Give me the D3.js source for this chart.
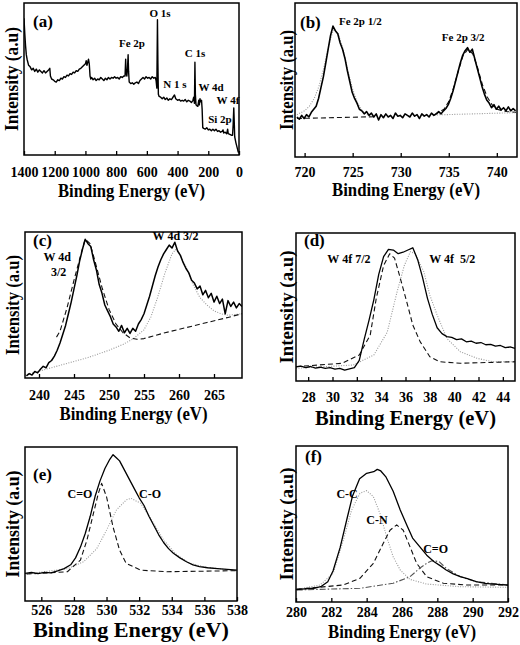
<!DOCTYPE html>
<html><head><meta charset="utf-8">
<script src="https://cdn.jsdelivr.net/npm/d3@7"></script>
<style>body{margin:0;background:#fff}svg{display:block}</style>
</head><body>
<script>
// ---------- DATA (binding energy eV, intensity a.u. 0-100) ----------
const aTicks = [1400,1200,1000,800,600,400,200,0];
const aSurvey = [[1400,90],[1395,80],[1390,72],[1385,66],[1380,63],[1375,61],[1370,59],[1360,58],[1350,56],[1340,57],[1330,55],[1320,56.5],[1310,54.5],[1300,56],[1290,55],[1280,54],[1270,55.5],[1260,54],[1250,55],[1240,56],[1232,57],[1228,52],[1220,50],[1210,49.5],[1200,48.5],[1190,48],[1180,49.5],[1170,49],[1160,50.5],[1150,50],[1140,51.5],[1130,51],[1120,52.5],[1110,52],[1100,53.5],[1090,53],[1080,54.5],[1070,54],[1060,55.5],[1050,55],[1040,56.5],[1030,57],[1020,58],[1010,59],[1000,60],[995,62],[990,59],[985,61],[980,63],[975,60],[970,52],[965,50],[960,51],[950,49.5],[940,50.5],[930,49],[920,50],[910,49.5],[900,51],[890,50],[880,49],[870,50.5],[860,49.5],[850,51],[840,50],[830,51],[820,50.5],[810,51.5],[800,50.5],[790,51],[780,50],[770,51.5],[760,51],[750,52],[742,52],[738,63],[735,54],[730,52],[726,57],[722,66],[719,55],[715,48],[705,47],[695,47.5],[685,46.5],[675,47.5],[665,48],[655,47],[645,49],[635,50],[625,51],[615,50],[605,51.5],[595,50.5],[585,51],[575,50],[565,51.5],[555,50.5],[545,51],[540,49],[535,44],[531,89],[528,60],[525,40],[520,38.5],[510,38],[500,37],[490,38],[480,36.5],[470,37.5],[460,36],[450,37],[440,36.5],[430,38],[420,39.5],[412,37],[400,36],[390,36.5],[380,35.5],[370,36],[360,35.5],[350,36.5],[340,35],[330,36],[320,35.5],[310,34.5],[300,36],[295,38],[290,34],[287,61],[284,40],[280,33],[275,32.5],[268,32],[262,36],[258,33],[254,37],[250,35],[244,36],[240,30],[236,18],[230,17.5],[220,17],[210,18],[200,16.5],[190,17],[180,16],[170,17],[160,16],[150,17],[140,15.5],[130,16],[120,15],[110,15.5],[104,16.5],[100,14.5],[90,15],[80,14],[74,17],[70,14],[60,13.5],[50,13],[42,13],[38,20],[34,31],[31,22],[28,12],[20,8],[10,4],[5,2],[2,1.5]];
const aNotes = [["Fe 2p",697,73.7],["O 1s",514,93.4],["C 1s",286,67],["N 1 s",417,46.7],["W 4d",182,44.6],["W 4f",72,35.8],["Si 2p",124,23.7]];

const bTicks = [720,725,730,735,740];
const bData = [[719.2,26],[719.45,24.5],[719.7,27],[719.95,25],[720.2,27.5],[720.45,26],[720.7,29],[720.95,31],[721.2,33],[721.45,38],[721.7,45],[721.95,52],[722.2,61],[722.45,70],[722.7,79],[722.95,85],[723.2,82],[723.45,80],[723.7,74],[723.95,70],[724.2,64],[724.45,56],[724.7,49],[724.95,42],[725.2,38],[725.45,35],[725.7,31],[725.95,30],[726.2,28],[726.45,29.5],[726.7,27],[726.95,28.5],[727.2,26],[727.45,28],[727.7,24],[727.95,27.5],[728.2,25.5],[728.45,28],[728.7,26],[728.95,27],[729.2,25],[729.45,28.5],[729.7,26.5],[729.95,27],[730.2,25.5],[730.45,28],[730.7,27],[730.95,26],[731.2,28.5],[731.45,26.5],[731.7,27.5],[731.95,25],[732.2,28],[732.45,26.5],[732.7,27.5],[732.95,26],[733.2,28.5],[733.45,27],[733.7,28],[733.95,29.5],[734.2,28],[734.45,30],[734.7,31.5],[734.95,34],[735.2,38],[735.45,43],[735.7,49],[735.95,55],[736.2,61],[736.45,66],[736.7,69],[736.95,71],[737.2,68],[737.45,70],[737.7,64],[737.95,58],[738.2,52],[738.45,46],[738.7,41],[738.95,37],[739.2,35],[739.45,32],[739.7,34],[739.95,31],[740.2,33],[740.45,30.5],[740.7,32],[740.95,30],[741.2,32.5],[741.45,30],[741.7,31.5],[741.95,30]];
const bFitPeak1 = [[719.2,27.5],[720,30],[720.5,33],[721,38],[721.5,46],[722,58],[722.5,72],[723,83],[723.5,80],[724,70],[724.5,56],[725,44],[725.5,35],[726,30],[726.5,27.5],[727,26.5]];
const bBaseLeft = [[719.2,25],[727.5,26.2]];
const bBaseRight = [[733.5,27.3],[742,28.8]];
const bFitPeak2 = [[733.5,27.5],[734.5,31],[735,36],[735.5,45],[736,56],[736.5,66],[737,70],[737.5,67],[738,58],[738.5,47],[739,39],[739.5,34],[740,31],[741,29.5],[742,29]];
const bNotes = [["Fe 2p 1/2",725.8,87.9],["Fe 2p 3/2",736.5,77.9]];

const cTicks = [240,245,250,255,260,265];
const cData = [[238.2,1.5],[238.6,3],[239,2],[239.4,4.5],[239.8,3.5],[240.2,6],[240.6,8],[241,7],[241.4,10.5],[241.8,12],[242.2,15],[242.6,19],[243,24],[243.4,30],[243.8,36],[244.2,44],[244.6,52],[245,61],[245.4,70],[245.8,80],[246.2,88],[246.6,95],[247,92],[247.4,90],[247.8,81],[248.2,74],[248.6,64],[249,58],[249.4,50],[249.8,46],[250.2,42],[250.6,37],[251,35],[251.4,32],[251.8,36],[252.2,31],[252.6,34],[253,30.5],[253.4,34],[253.8,32],[254.2,37],[254.6,40],[255,44],[255.4,50],[255.8,56],[256.2,63],[256.6,70],[257,76],[257.4,81],[257.8,85],[258.2,88],[258.6,91],[259,89],[259.4,93],[259.8,87],[260.2,84],[260.6,79],[261,75],[261.4,72],[261.8,67],[262.2,65],[262.6,61],[263,63],[263.4,57],[263.8,60],[264.2,55],[264.6,58],[265,52],[265.4,56],[265.8,51],[266.2,54],[266.6,44],[267,53],[267.4,49],[267.8,52],[268.2,48],[268.6,51],[269,49]];
const cFitPeak1 = [[242.5,28],[243,32],[244,48],[245,67],[246,85],[246.6,95],[247.3,92],[248,80],[249,62],[250,47],[251,37],[252,31],[253,27.5],[254,26.5],[255,27],[258,31],[261,34.5],[264,38],[267,41.5],[269,44]];
const cFitPeak2 = [[238,2],[241,6],[244,10],[247,14],[250,19],[252,23],[253.5,27],[255,33],[256,42],[257,56],[258,72],[259,85],[259.5,88],[260,86],[261,76],[262,64],[263,55],[264,50],[265,46],[266,44],[267,43],[268,43.5],[269,44]];
const cNotes = [["W 4d",242.6,82.9],["3/2",242.8,72.6],["W 4d 3/2",259.5,97.5]];

const dTicks = [28,30,32,34,36,38,40,42,44];
const dData = [[27,9.5],[27.4,10],[27.8,9],[28.2,9.8],[28.6,8.7],[29,9.3],[29.4,8.5],[29.8,9],[30.2,8],[30.6,8.6],[31,7.3],[31.4,8.2],[31.8,9],[32.2,14],[32.6,28],[33,41],[33.4,55],[33.8,72],[34.2,84],[34.6,89],[35,88.5],[35.4,86],[35.8,87],[36.2,88.5],[36.6,90],[37,82],[37.4,70],[37.8,56],[38.2,45],[38.6,36],[39,32],[39.4,30],[39.8,29.5],[40.2,28],[40.6,28.5],[41,26.5],[41.4,27],[41.8,25.5],[42.2,26],[42.6,24.5],[43,24.8],[43.4,23.5],[43.8,24],[44.2,22.5],[44.6,23],[45,22]];
const dFit72 = [[27,9.7],[30.8,12],[32.2,17.6],[33.1,31],[33.6,56],[34.2,78],[34.7,86],[35.1,83],[35.5,71.6],[36.1,53.6],[36.6,37.8],[37.2,26.6],[38,16.4],[38.8,13],[40.5,12],[45,13]];
const dFit52 = [[27,8.6],[31.7,10.8],[33.4,17.6],[34.5,33],[35.3,60],[35.9,78],[36.4,87.4],[36.8,86],[37.5,74],[38,58],[38.6,44.6],[39.4,28.8],[40.5,19.8],[41.9,15.3],[43.2,13],[45,13]];
const dNotes = [["W 4f 7/2",31.35,82.9],["W 4f  5/2",39.84,82.9]];

const eTicks = [526,528,530,532,534,536,538];
const eData = [[525,18],[525.4,18.5],[525.8,17.8],[526.2,18.6],[526.6,18.2],[527,19.5],[527.4,21],[527.8,23.5],[528.1,28],[528.4,35],[528.7,44],[529,55],[529.3,68],[529.6,78],[529.9,86],[530.2,92],[530.4,95],[530.6,93],[530.8,91],[531.1,85],[531.4,79],[531.7,73],[532,67],[532.3,62],[532.6,55],[532.9,49],[533.2,43],[533.5,38],[533.8,34],[534.1,31],[534.5,28],[534.9,25.5],[535.3,23.5],[535.7,22.3],[536.2,21.6],[536.8,21],[537.4,20.5],[538,20]];
const eFitCdO = [[525.1,17.5],[527.6,19],[528.4,26.6],[528.8,39.6],[529.2,57],[529.5,70],[529.7,76.4],[530,67.7],[530.4,48],[530.8,33],[531.2,24.5],[532.1,20],[533.7,19],[538,19.7]];
const eFitCO = [[525.1,17.5],[527.6,21],[528.6,25.5],[529.4,34],[530,46],[530.6,59],[531.2,65.6],[531.5,66.7],[532.1,63.4],[532.7,53.7],[533.5,39.6],[534.3,30],[535.1,24.5],[536.1,21.9],[538,19.7]];
const eNotes = [["C=O",528.37,69.7],["C-O",532.67,69.7]];

const fTicks = [280,282,284,286,288,290,292];
const fData = [[280,8],[280.5,8.4],[281,8.8],[281.4,9.8],[281.8,13],[282.1,20],[282.5,35],[282.9,54],[283.2,68],[283.6,79],[284,82.5],[284.4,83.5],[284.6,85],[284.8,84],[285.1,80],[285.5,71],[285.9,59],[286.3,48.5],[286.6,41],[287,35.5],[287.4,30],[287.8,26],[288.2,23],[288.5,20.5],[288.9,18],[289.3,16.2],[289.7,15],[290.2,13],[290.7,12],[291.2,11.5],[291.6,11.2],[292,10.8]];
const fFitCC = [[280.04,8.1],[281.36,10.9],[282.11,18.4],[282.68,39.7],[283.15,59],[283.62,69.7],[284,71.4],[284.38,67.5],[284.75,56.8],[285.13,41.9],[285.5,29],[285.9,20.5],[286.45,14.5],[287.4,11.5],[289.3,9.8],[292,9.4]];
const fFitCN = [[280.04,8.1],[282.68,10.9],[283.62,15.2],[284.38,24.8],[284.94,37.6],[285.32,46],[285.7,49.4],[286.07,46],[286.45,35.5],[286.83,24.8],[287.4,16.2],[288.34,12],[289.66,10.9],[292,10.9]];
const fFitCdO = [[280.04,7.7],[283.62,8.8],[285.5,12],[286.45,16.2],[287,21.6],[287.4,24.8],[287.7,26.5],[288.1,25.9],[288.5,21.6],[289.3,16.2],[290.2,13],[292,10.9]];
const fNotes = [["C-C",282.89,69.2],["C-N",284.58,53],["C=O",287.9,34]];

const panelTags = ["(a)","(b)","(c)","(d)","(e)","(f)"];
const xTitle = "Binding Energy (eV)";
const yTitle = "Intensity (a.u)";

// ---------- LAYOUT ----------
const FONT = "'Liberation Serif','Times New Roman',Times,serif";
const STY = {
  solid:{stroke:"#000",w:1.3,dash:null},
  dash:{stroke:"#111",w:1.1,dash:"5,3"},
  dot:{stroke:"#999",w:1.1,dash:"1,1.5"},
  dashdot:{stroke:"#555",w:1.1,dash:"6,2,1.5,2"}
};
const panels = [
 {x0:24,x1:239,y0:3,y1:155,dom:[1400,0],ticks:aTicks,labY:172,titY:191,titLen:147,tfs:18,ytX:12,ytLen:104,tag:[33,21],nfs:11,
  series:[[aSurvey,"solid",1.4]],notes:aNotes},
 {x0:295,x1:517,y0:3,y1:157,dom:[719,742.1],ticks:bTicks,labY:172,titY:190,titLen:148,tfs:18,ytX:287,ytLen:100,tag:[300,22],nfs:11,
  series:[[bBaseLeft,"dash"],[bFitPeak2,"dash"],[bFitPeak1,"dot"],[bBaseRight,"dot"],[bData,"solid",1.6]],notes:bNotes},
 {x0:25,x1:242,y0:232,y1:378,dom:[238,269],ticks:cTicks,labY:395,titY:414,titLen:148,tfs:18,ytX:13,ytLen:100,tag:[33,240],nfs:12,
  series:[[cFitPeak2,"dot"],[cFitPeak1,"dash"],[cData,"solid",1.5]],notes:cNotes},
 {x0:296,x1:515,y0:233,y1:381,dom:[27,45],ticks:dTicks,labY:397,titY:418,titLen:181,tfs:20,ytX:287,ytLen:113,tag:[304,240],nfs:12,
  series:[[dFit52,"dot"],[dFit72,"dash"],[dData,"solid",1.3]],notes:dNotes},
 {x0:25,x1:237,y0:447,y1:601,dom:[525,538],ticks:eTicks,labY:610,titY:630,titLen:196,tfs:20,ytX:13,ytLen:107,tag:[33,474],nfs:12,
  series:[[eFitCO,"dot"],[eFitCdO,"dash"],[eData,"solid",1.3]],notes:eNotes},
 {x0:296,x1:508,y0:446,y1:602,dom:[280,292],ticks:fTicks,labY:612,titY:632,titLen:148,tfs:18,ytX:287,ytLen:113,tag:[305,456],nfs:12,
  series:[[fFitCC,"dot"],[fFitCN,"dash"],[fFitCdO,"dashdot"],[fData,"solid",1.3]],notes:fNotes}
];

const svg = d3.select("body").append("svg").attr("width",520).attr("height",645)
  .style("font-family",FONT);

panels.forEach((p,i)=>{
  const x = d3.scaleLinear().domain(p.dom).range([p.x0,p.x1]);
  const y = d3.scaleLinear().domain([0,100]).range([p.y1,p.y0]);
  const g = svg.append("g");
  const cid = "clip"+i;
  svg.append("clipPath").attr("id",cid).append("rect")
    .attr("x",p.x0).attr("y",p.y0).attr("width",p.x1-p.x0).attr("height",p.y1-p.y0);
  const line = d3.line().x(d=>x(d[0])).y(d=>y(d[1]));
  p.series.forEach(([data,st,w])=>{
    const s = STY[st];
    g.append("path").attr("d",line(data)).attr("clip-path",`url(#${cid})`)
      .attr("fill","none").attr("stroke",s.stroke).attr("stroke-width",w||s.w)
      .attr("stroke-dasharray",s.dash).attr("stroke-linejoin","round");
  });
  const ax = d3.axisBottom(x).tickValues(p.ticks).tickSizeInner(-4).tickSizeOuter(0).tickFormat(d3.format("d"));
  const axg = g.append("g").attr("transform",`translate(0,${p.y1})`).call(ax);
  axg.select(".domain").remove();
  axg.selectAll(".tick line").attr("stroke","#000").attr("stroke-width",1.3);
  axg.selectAll(".tick text").attr("y",p.labY-p.y1).attr("dy","0.35em")
    .attr("fill","#000").style("font-family",FONT).style("font-size","14px").style("font-weight","bold");
  g.append("rect").attr("x",p.x0).attr("y",p.y0).attr("width",p.x1-p.x0).attr("height",p.y1-p.y0)
    .attr("fill","none").attr("stroke","#000").attr("stroke-width",1.5);
  g.append("text").attr("x",(p.x0+p.x1)/2).attr("y",p.titY).attr("dy","0.35em")
    .attr("text-anchor","middle").attr("textLength",p.titLen).attr("lengthAdjust","spacingAndGlyphs")
    .style("font-size",p.tfs+"px").style("font-weight","bold").text(xTitle);
  const cy=(p.y0+p.y1)/2;
  g.append("text").attr("transform",`translate(${p.ytX},${cy}) rotate(-90)`).attr("dy","0.35em")
    .attr("text-anchor","middle").attr("textLength",p.ytLen).attr("lengthAdjust","spacingAndGlyphs")
    .style("font-size","18px").style("font-weight","bold").text(yTitle);
  g.append("text").attr("x",p.tag[0]).attr("y",p.tag[1]).attr("dy","0.35em")
    .style("font-size","17px").style("font-weight","bold").text(panelTags[i]);
  p.notes.forEach(([t,bx,by])=>{
    g.append("text").attr("x",x(bx)).attr("y",y(by)).attr("dy","0.35em").attr("text-anchor","middle")
      .style("font-size",p.nfs+"px").style("font-weight","bold").style("white-space","pre")
      .attr("xml:space","preserve").text(t);
  });
});
</script>
</body></html>
